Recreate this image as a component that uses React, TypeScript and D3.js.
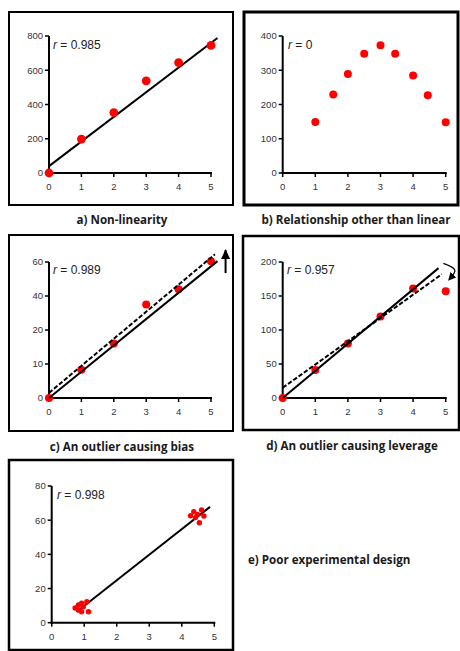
import React from "react";
import * as d3 from "d3";

// ---------- data ----------
const xTicks = [0, 1, 2, 3, 4, 5];

const aX = [0, 1, 2, 3, 4, 5];
const aY = [0, 198, 353, 538, 645, 745];
const aYTicks = [0, 200, 400, 600, 800];
const aFit = [[0, 40], [5.2, 788]];
const aR = "0.985";

const bX = [1, 1.55, 2, 2.5, 3, 3.45, 4, 4.45, 5];
const bY = [149, 229, 289, 348, 373, 348, 285, 227, 148];
const bYTicks = [0, 100, 200, 300, 400];
const bR = "0";

const cX = [0, 1, 2, 3, 4, 5];
const cY = [0, 8.3, 16, 35, 44, 60.5];
const cYTicks = [0, 10, 20, 40, 60];
const cFitSolid = [[0, 0], [5.2, 60.5]];
const cFitDashed = [[0, 1.5], [5.12, 64.5]];
const cArrow = [[5.45, 53.5], [5.45, 67]];
const cR = "0.989";

const dX = [0, 1, 2, 3, 4, 5];
const dY = [0, 41, 80, 120, 161, 157];
const dYTicks = [0, 50, 100, 150, 200];
const dFitSolid = [[0, 0], [4.78, 191]];
const dFitDashed = [[0, 15], [4.88, 182]];
const dArrow = [[4.93, 198], [5.28, 188], [5.14, 176]];
const dR = "0.957";

const eX = [0.72, 0.82, 0.92, 0.97, 0.82, 0.92, 1.08, 1.13, 4.27, 4.37, 4.48, 4.54, 4.61, 4.68, 4.42];
const eY = [8.6, 10.4, 11.4, 9.4, 7.4, 6.4, 12.3, 6.4, 62.6, 65, 63.4, 58.5, 66, 62.4, 61.5];
const eYTicks = [0, 20, 40, 60, 80];
const eFit = [[0.77, 6.4], [4.87, 67.8]];
const eR = "0.998";

const labels = [
  "a) Non-linearity",
  "b) Relationship other than linear",
  "c) An outlier causing bias",
  "d) An outlier causing leverage",
  "e) Poor experimental design",
];

// ---------- styles ----------
const RED = "#ff0000";
const TICK_FONT = "Liberation Sans, Arial, sans-serif";
const LABEL_FONT = "'Open Sans', 'Noto Sans', sans-serif";

type Scale = d3.ScaleLinear<number, number>;

function Axes({ x, y, yTicks }: { x: Scale; y: Scale; yTicks: number[] }) {
  const x0 = x(0);
  const y0 = y(0);
  const yTop = y(yTicks[yTicks.length - 1]);
  return (
    <g>
      <line x1={x0} x2={x0} y1={y0 + 1} y2={yTop} stroke="#000" strokeWidth={2} />
      <line x1={x0 - 1} x2={x(5) + 1} y1={y0} y2={y0} stroke="#000" strokeWidth={2} />
      {xTicks.map((t) => (
        <g key={"x" + t}>
          <line x1={x(t)} x2={x(t)} y1={y0} y2={y0 + 4} stroke="#000" strokeWidth={1.5} />
          <text x={x(t)} y={y0 + 17} textAnchor="middle" fontSize={9.5} fill="#333" fontFamily={TICK_FONT}>
            {t}
          </text>
        </g>
      ))}
      {yTicks.map((t) => (
        <g key={"y" + t}>
          <line x1={x0 - 4} x2={x0} y1={y(t)} y2={y(t)} stroke="#000" strokeWidth={1.5} />
          <text x={x0 - 6} y={y(t)} dy="0.35em" textAnchor="end" fontSize={9.5} fill="#333" fontFamily={TICK_FONT}>
            {t}
          </text>
        </g>
      ))}
    </g>
  );
}

function RText({ x, y, value }: { x: number; y: number; value: string }) {
  return (
    <text x={x} y={y} fontSize={12} fill="#222" fontFamily={TICK_FONT}>
      <tspan fontStyle="italic">r</tspan> = {value}
    </text>
  );
}

function Dots({ xs, ys, x, y, r }: { xs: number[]; ys: number[]; x: Scale; y: Scale; r: number }) {
  return (
    <g>
      {xs.map((v, i) => (
        <circle key={i} cx={x(v)} cy={y(ys[i])} r={r} fill={RED} />
      ))}
    </g>
  );
}

function FitLine({ pts, x, y, dashed }: { pts: number[][]; x: Scale; y: Scale; dashed?: boolean }) {
  const gen = d3.line<number[]>().x((d) => x(d[0])).y((d) => y(d[1]));
  return (
    <path
      d={gen(pts) || ""}
      fill="none"
      stroke="#000"
      strokeWidth={2}
      strokeDasharray={dashed ? "4.5 2" : undefined}
    />
  );
}

function Box({ x1, y1, x2, y2, w }: { x1: number; y1: number; x2: number; y2: number; w: number }) {
  return <rect x={x1} y={y1} width={x2 - x1} height={y2 - y1} fill="none" stroke="#000" strokeWidth={w} />;
}

function Label({ x, y, text, anchor = "middle" }: { x: number; y: number; text: string; anchor?: string }) {
  return (
    <text x={x} y={y} textAnchor={anchor} fontSize={11.6} fontWeight={700} fill="#1a1a1a" fontFamily={LABEL_FONT}>
      {text}
    </text>
  );
}

export default function App() {
  const xa = d3.scaleLinear().domain([0, 5]).range([49, 211]);
  const ya = d3.scaleLinear().domain([0, 800]).range([173, 36]);
  const xb = d3.scaleLinear().domain([0, 5]).range([282.7, 445.7]);
  const yb = d3.scaleLinear().domain([0, 400]).range([173, 36]);
  const xc = d3.scaleLinear().domain([0, 5]).range([49, 211]);
  const yc = d3.scaleLinear().domain(cYTicks).range([398, 364, 330, 296, 262]);
  const xd = d3.scaleLinear().domain([0, 5]).range([282.7, 445.7]);
  const yd = d3.scaleLinear().domain([0, 200]).range([398, 262]);
  const xe = d3.scaleLinear().domain([0, 5]).range([51.7, 214.3]);
  const ye = d3.scaleLinear().domain([0, 80]).range([622.7, 486]);

  const curve = d3
    .line<number[]>()
    .x((d) => xd(d[0]))
    .y((d) => yd(d[1]))
    .curve(d3.curveCatmullRom.alpha(0.5));

  return (
    <svg width={460} height={651} style={{ position: "absolute", left: 0, top: 0, background: "#fff" }}>
      <defs>
        <marker id="ah" viewBox="0 0 10 10" refX="6" refY="5" markerWidth="8" markerHeight="8" orient="auto" markerUnits="userSpaceOnUse">
          <path d="M0,0 L10,5 L0,10 z" fill="#000" />
        </marker>
      </defs>
      <rect x={0} y={0} width={460} height={651} fill="#fff" />

      {/* a */}
      <Box x1={9} y1={12} x2={233} y2={205} w={2} />
      <Axes x={xa} y={ya} yTicks={aYTicks} />
      <FitLine pts={aFit} x={xa} y={ya} />
      <Dots xs={aX} ys={aY} x={xa} y={ya} r={4.4} />
      <RText x={53} y={49} value={aR} />
      <Label x={122} y={224} text={labels[0]} />

      {/* b */}
      <Box x1={244} y1={12} x2={458} y2={205} w={3} />
      <Axes x={xb} y={yb} yTicks={bYTicks} />
      <Dots xs={bX} ys={bY} x={xb} y={yb} r={4} />
      <RText x={288} y={49} value={bR} />
      <Label x={356} y={224} text={labels[1]} />

      {/* c */}
      <Box x1={9} y1={235} x2={233} y2={431} w={2} />
      <Axes x={xc} y={yc} yTicks={cYTicks} />
      <Dots xs={cX} ys={cY} x={xc} y={yc} r={4} />
      <FitLine pts={cFitSolid} x={xc} y={yc} />
      <FitLine pts={cFitDashed} x={xc} y={yc} dashed />
      <FitLine pts={cArrow} x={xc} y={yc} />
      <path
        d={`M${xc(cArrow[1][0]) - 4.5},${yc(cArrow[1][1]) + 9} L${xc(cArrow[1][0])},${yc(cArrow[1][1]) - 1} L${xc(cArrow[1][0]) + 4.5},${yc(cArrow[1][1]) + 9} z`}
        fill="#000"
      />
      <RText x={53} y={274} value={cR} />
      <Label x={122} y={451} text={labels[2]} />

      {/* d */}
      <Box x1={243} y1={236} x2={459} y2={430} w={2.5} />
      <Axes x={xd} y={yd} yTicks={dYTicks} />
      <Dots xs={dX} ys={dY} x={xd} y={yd} r={4} />
      <FitLine pts={dFitSolid} x={xd} y={yd} />
      <FitLine pts={dFitDashed} x={xd} y={yd} dashed />
      <path d={curve(dArrow) || ""} fill="none" stroke="#000" strokeWidth={1.3} markerEnd="url(#ah)" />
      <RText x={287} y={274} value={dR} />
      <Label x={352} y={450} text={labels[3]} />

      {/* e */}
      <Box x1={9} y1={460} x2={233} y2={650} w={2.5} />
      <Axes x={xe} y={ye} yTicks={eYTicks} />
      <FitLine pts={eFit} x={xe} y={ye} />
      <Dots xs={eX} ys={eY} x={xe} y={ye} r={2.7} />
      <RText x={57} y={499} value={eR} />
      <Label x={248} y={564} text={labels[4]} anchor="start" />
    </svg>
  );
}
